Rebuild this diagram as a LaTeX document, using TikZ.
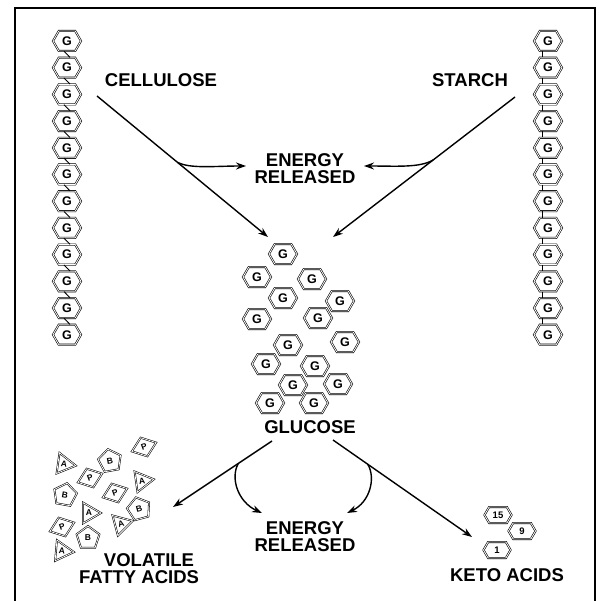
\documentclass[tikz,border=0pt]{standalone}
\usepackage{fontspec}
\setmainfont{Liberation Sans}
\usetikzlibrary{shapes.geometric,shapes.symbols,arrows.meta,calc}
\begin{document}
\begin{tikzpicture}[x=1pt,y=-1pt,
  hexg/.style={signal, signal to=west and east, signal pointer angle=120, draw=black, line width=0.6pt, double, double distance=0.8pt, minimum width=28pt, minimum height=20pt, inner sep=0pt, font=\bfseries\fontsize{12.5}{12.5}\selectfont},
  keto/.style={hexg, minimum width=27pt, minimum height=16pt, font=\bfseries\fontsize{9.5}{9.5}\selectfont},
  vfa/.style={draw=black, line width=0.55pt, double, double distance=0.75pt, inner sep=0pt, font=\bfseries\fontsize{8.5}{8.5}\selectfont},
  tri/.style={vfa, regular polygon, regular polygon sides=3, shape border rotate=-90, minimum size=24pt},
  pent/.style={vfa, regular polygon, regular polygon sides=5, minimum size=24pt},
  dia/.style={vfa, diamond, minimum width=26pt, minimum height=20pt},
  lbl/.style={font=\bfseries\fontsize{18.5}{17.5}\selectfont, align=center, inner sep=0pt},
  arr/.style={line width=1.4pt, -{Stealth[length=10pt,width=7pt]}},
  link/.style={line width=0.9pt},
  frame/.style={line width=2pt}
]
\useasboundingbox (0,0) rectangle (598,601);
% frame
\draw[frame] (15,601) -- (15,8) -- (595,8) -- (595,601);
% chains
\foreach \i in {1,...,12}{
  \node[hexg] (l\i) at (67,{41+26.7*(\i-1)}) {G};
  \node[hexg] (r\i) at (548,{41+26.7*(\i-1)}) {G};
}
\foreach \i in {1,...,11}{
  \pgfmathtruncatemacro\j{\i+1}
  \draw[link] ([xshift=-3pt]l\i.south) -- ([xshift=3pt]l\j.north);
  \draw[link] ([xshift=-6pt]r\i.south) -- ([xshift=-6pt]r\j.north);
}
% glucose cluster
\foreach \px/\py [count=\k] in {283/254, 257/277, 312/279, 283/298, 340/301, 257/319, 318/318, 288/345, 345/342, 266/364, 315/366, 293/385, 338/384, 270/403, 314/403}
  \node[hexg] (g\k) at (\px,\py) {G};
% labels
\node[lbl] (cell) at (161,80) {CELLULOSE};
\node[lbl] (starch) at (470,80) {STARCH};
\node[lbl] (er1) at (305,168.5) {ENERGY\\RELEASED};
\node[lbl] (glu) at (310,427) {GLUCOSE};
\node[lbl] (er2) at (305,536.5) {ENERGY\\RELEASED};
\node[lbl] (vfa1) at (149,560) {VOLATILE};
\node[lbl] (vfa2) at (139,577) {FATTY ACIDS};
\node[lbl] (ketol) at (507,575) {KETO ACIDS};
% volatile fatty acids
\node[tri,rotate=-8] (a1) at (64,464) {A};
\node[pent,rotate=10] (b1) at (110,461) {B};
\node[dia,rotate=20] (p1) at (144,447) {P};
\node[dia,rotate=20] (p2) at (90,478) {P};
\node[tri,rotate=8] (a2) at (142,481) {A};
\node[pent,rotate=-10] (b2) at (65,495) {B};
\node[dia,rotate=20] (p3) at (115,493) {P};
\node[tri] (a3) at (89,513) {A};
\node[pent,rotate=15] (b3) at (139,509) {B};
\node[tri,rotate=15] (a4) at (121,524) {A};
\node[dia,rotate=20] (p4) at (62,527) {P};
\node[pent] (b4) at (88,538) {B};
\node[tri,rotate=-5] (a5) at (62,551) {A};
% keto acids
\node[keto] (k15) at (498,515) {15};
\node[keto] (k9) at (522,531) {9};
\node[keto] (k1) at (497,550) {1};
% arrows
\coordinate (cs) at (97,96); \coordinate (ce) at (268,237);
\coordinate (ss) at (515,97); \coordinate (se) at (333,237);
\draw[arr] (cs) -- (ce);
\draw[arr] (ss) -- (se);
\coordinate (cb) at ($(cs)!0.47!(ce)$);
\coordinate (sb) at ($(ss)!0.45!(se)$);
\coordinate (e1l) at (246,166); \coordinate (e1r) at (364,166);
\draw[arr] (cb) .. controls (190,169) and (215,166) .. (e1l);
\draw[arr] (sb) .. controls (420,168) and (395,166) .. (e1r);
\coordinate (gl) at (272,441); \coordinate (vl) at (173,507);
\coordinate (gr) at (333,440); \coordinate (kr) at (472,537);
\draw[arr] (gl) -- (vl);
\draw[arr] (gr) -- (kr);
\coordinate (blb) at ($(gl)!0.34!(vl)$);
\coordinate (brb) at ($(gr)!0.25!(kr)$);
\coordinate (e2l) at (262,513); \coordinate (e2r) at (347,513);
\draw[arr] (blb) .. controls (230,478) and (238,502) .. (e2l);
\draw[arr] (brb) .. controls (376,478) and (370,502) .. (e2r);
\end{tikzpicture}
\end{document}
